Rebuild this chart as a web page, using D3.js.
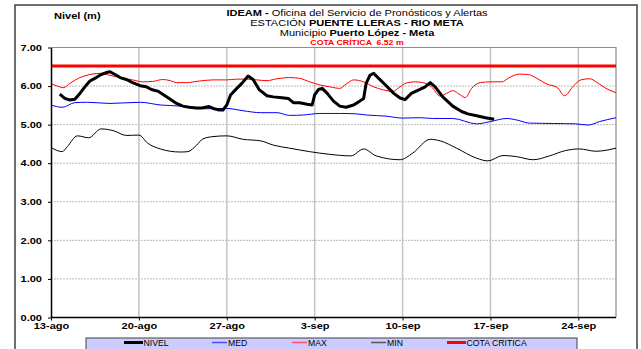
<!DOCTYPE html>
<html>
<head>
<meta charset="utf-8">
<script src="https://cdn.jsdelivr.net/npm/d3@7"></script>
<style>
  body { margin: 0; background: #fff; }
  svg text { font-family: Arial, "Liberation Sans", sans-serif; }
</style>
</head>
<body>
<div id="chart"></div>
<script>
// dias contados desde el 13-ago
var tickDias = [0, 7, 14, 21, 28, 35, 42];
var tickLabels = ["13-ago", "20-ago", "27-ago", "3-sep", "10-sep", "17-sep", "24-sep"];
var nivelTicks = [0, 1, 2, 3, 4, 5, 6, 7];
var cotaCritica = 6.52;

var nivel = [[0.7,5.79],[1.1,5.68],[1.5,5.64],[1.9,5.66],[2.3,5.81],[2.7,5.98],[3.1,6.13],[3.6,6.22],
  [4.0,6.30],[4.4,6.35],[4.7,6.37],[5.1,6.30],[5.5,6.22],[6.0,6.17],[6.5,6.09],[7.1,6.01],[7.6,5.98],
  [8.0,5.91],[8.5,5.87],[8.9,5.79],[9.5,5.66],[10.0,5.55],[10.5,5.48],[11.0,5.45],[11.6,5.43],[12.1,5.44],
  [12.6,5.47],[13.0,5.41],[13.4,5.38],[13.7,5.38],[14.0,5.51],[14.3,5.77],[14.8,5.94],[15.2,6.07],
  [15.7,6.26],[16.1,6.17],[16.6,5.90],[17.2,5.75],[17.7,5.72],[18.4,5.70],[18.9,5.68],[19.3,5.57],
  [19.8,5.57],[20.4,5.53],[20.8,5.51],[21.0,5.77],[21.3,5.91],[21.6,5.94],[22.0,5.81],[22.5,5.61],
  [23.0,5.48],[23.5,5.45],[24.1,5.51],[24.5,5.59],[24.9,5.68],[25.1,6.07],[25.4,6.28],[25.7,6.33],
  [26.1,6.20],[26.6,6.04],[27.3,5.81],[27.8,5.69],[28.2,5.65],[28.7,5.81],[29.3,5.90],[29.8,5.98],
  [30.2,6.09],[30.6,5.98],[31.2,5.72],[32.0,5.48],[32.7,5.34],[33.2,5.28],[33.9,5.23],[34.6,5.18],[35.3,5.14]];

var med = [[0,5.51],[0.9,5.45],[1.9,5.57],[2.9,5.58],[4.7,5.55],[7.1,5.58],[8.7,5.51],[10.3,5.48],
  [11.8,5.41],[14.0,5.42],[15.3,5.36],[16.7,5.31],[18.0,5.31],[19.0,5.24],[20.1,5.25],[21.4,5.29],
  [23.0,5.29],[24.3,5.28],[25.1,5.25],[26.7,5.22],[28.0,5.17],[29.4,5.18],[30.4,5.16],[32.0,5.16],
  [33.9,5.02],[35.0,5.08],[36.3,5.16],[37.1,5.12],[38.1,5.04],[40.0,5.03],[41.8,5.02],[42.8,4.99],
  [43.7,5.08],[45.0,5.18]];

var max = [[0,6.07],[0.5,6.00],[1.0,5.96],[1.5,6.07],[2.3,6.22],[3.1,6.30],[3.9,6.33],[4.7,6.28],
  [5.5,6.22],[6.5,6.16],[7.3,6.11],[8.1,6.12],[8.9,6.17],[9.5,6.14],[10.0,6.09],[10.8,6.09],[11.8,6.13],
  [12.9,6.16],[14.0,6.16],[14.8,6.18],[15.6,6.18],[16.4,6.16],[17.2,6.14],[18.0,6.19],[19.0,6.22],
  [19.8,6.20],[20.6,6.11],[21.4,6.03],[22.2,5.98],[23.0,5.94],[23.5,6.05],[24.1,6.16],[24.9,6.11],
  [25.7,5.98],[26.5,5.90],[27.2,5.86],[27.8,5.98],[28.3,6.08],[29.0,6.11],[29.6,6.09],[30.3,5.98],
  [31.0,5.74],[31.5,5.81],[32.0,5.88],[32.6,5.77],[33.0,5.70],[33.5,5.94],[34.2,6.09],[35.0,6.11],
  [35.9,6.11],[36.5,6.22],[37.3,6.31],[38.0,6.30],[38.7,6.20],[39.5,6.05],[40.3,5.97],[40.9,5.75],
  [41.6,6.00],[42.2,6.16],[42.9,6.19],[43.6,6.07],[44.2,5.94],[45.0,5.83]];

var min = [[0,4.41],[0.9,4.30],[1.3,4.43],[2.1,4.71],[3.0,4.66],[4.0,4.89],[5.0,4.84],[6.0,4.72],
  [7.0,4.73],[7.7,4.52],[8.7,4.37],[9.5,4.31],[10.3,4.29],[10.9,4.30],[11.6,4.47],[12.1,4.63],
  [12.9,4.69],[14.0,4.71],[15.3,4.62],[16.7,4.58],[17.7,4.47],[19.0,4.39],[20.6,4.30],[22.2,4.23],
  [23.9,4.19],[24.9,4.37],[25.9,4.19],[27.8,4.09],[28.8,4.26],[30.2,4.62],[31.0,4.58],[32.3,4.39],
  [33.9,4.13],[34.8,4.06],[36.0,4.20],[37.1,4.17],[38.4,4.09],[39.7,4.19],[41.0,4.33],[42.1,4.37],
  [43.4,4.31],[45.0,4.39]];

var width = 641;
var height = 349;
var padding = { top: 47.5, right: 25, bottom: 31.5, left: 51 };
var sx = 1.3; // el texto original viene estirado a lo ancho

var svg = d3.select('#chart')
    .append('svg')
    .attr('width', width)
    .attr('height', height);

// marco exterior
svg.append('rect')
    .attr('x', 15).attr('y', 5)
    .attr('width', 622).attr('height', 360)
    .attr('fill', '#fff')
    .attr('stroke', '#404040')
    .attr('stroke-width', 1.5);

var xScale = d3.scaleLinear()
    .domain([0, 45])
    .range([padding.left, width - padding.right]);
var yScale = d3.scaleLinear()
    .domain([0, 7])
    .range([height - padding.bottom, padding.top]);

var x0 = xScale(0), x1 = xScale(45), yTop = yScale(7), yBot = yScale(0);

// rejilla horizontal punteada
svg.append('g').selectAll('line')
    .data(nivelTicks.filter(function(d) { return d > 0 && d < 7; }))
    .enter().append('line')
    .attr('x1', x0).attr('x2', x1)
    .attr('y1', function(d) { return yScale(d); })
    .attr('y2', function(d) { return yScale(d); })
    .attr('stroke', '#a8a8a8')
    .attr('stroke-width', 0.8)
    .attr('stroke-dasharray', '2,1');

// rejilla vertical
svg.append('g').selectAll('line')
    .data(tickDias.filter(function(d) { return d > 0; }))
    .enter().append('line')
    .attr('x1', function(d) { return xScale(d); })
    .attr('x2', function(d) { return xScale(d); })
    .attr('y1', yTop).attr('y2', yBot)
    .attr('stroke', '#c4c4c4')
    .attr('stroke-width', 1.5);

// borde del area de trazado
svg.append('path')
    .attr('d', 'M' + x0 + ',' + yTop + 'H' + x1 + 'V' + yBot)
    .attr('fill', 'none')
    .attr('stroke', '#8c8c8c')
    .attr('stroke-width', 1.2);

var curva = d3.line()
    .x(function(d) { return xScale(d[0]); })
    .y(function(d) { return yScale(d[1]); })
    .curve(d3.curveMonotoneX);

svg.append('path').attr('d', curva(min))
    .attr('fill', 'none').attr('stroke', '#000').attr('stroke-width', 1);
svg.append('path').attr('d', curva(med))
    .attr('fill', 'none').attr('stroke', '#0000ff').attr('stroke-width', 1);
svg.append('path').attr('d', curva(max))
    .attr('fill', 'none').attr('stroke', '#ff0000').attr('stroke-width', 1);

// cota critica
svg.append('line')
    .attr('x1', x0).attr('x2', x1)
    .attr('y1', yScale(cotaCritica)).attr('y2', yScale(cotaCritica))
    .attr('stroke', '#ff0000')
    .attr('stroke-width', 3);

var lineaNivel = d3.line()
    .x(function(d) { return xScale(d[0]); })
    .y(function(d) { return yScale(d[1]); });
svg.append('path').attr('d', lineaNivel(nivel))
    .attr('fill', 'none').attr('stroke', '#000')
    .attr('stroke-width', 3)
    .attr('stroke-linejoin', 'round');

// ejes
var yAxis = d3.axisLeft(yScale)
    .tickValues(nivelTicks)
    .tickFormat(d3.format('.2f'))
    .tickSize(3)
    .tickSizeOuter(0);
var gy = svg.append('g')
    .attr('transform', 'translate(' + x0 + ',0)')
    .call(yAxis);
gy.select('.domain').attr('stroke-width', 1.5);
gy.selectAll('text')
    .attr('x', -9 / sx)
    .attr('transform', 'scale(' + sx + ',1)')
    .attr('font-size', 8.5)
    .attr('font-weight', 'bold')
    .attr('fill', '#000');

var xAxis = d3.axisBottom(xScale)
    .tickValues(tickDias)
    .tickFormat(function(d, i) { return tickLabels[i]; })
    .tickSize(3)
    .tickSizeOuter(0);
var gx = svg.append('g')
    .attr('transform', 'translate(0,' + yBot + ')')
    .call(xAxis);
gx.select('.domain').attr('d', 'M' + x0 + ',0H' + x1).attr('stroke-width', 1.5);
gx.selectAll('text')
    .attr('y', 5)
    .attr('transform', 'scale(' + sx + ',1)')
    .attr('font-size', 8.5)
    .attr('font-weight', 'bold')
    .attr('fill', '#000');

// titulos
svg.append('text')
    .attr('transform', 'translate(54,18.5) scale(' + sx + ',1)')
    .attr('font-size', 8.5).attr('font-weight', 'bold')
    .text('Nivel (m)');

var titulos = svg.append('g')
    .attr('text-anchor', 'middle')
    .attr('font-size', 8.5);
var t1 = titulos.append('text').attr('transform', 'translate(357,15.5) scale(' + sx + ',1)');
t1.append('tspan').attr('font-weight', 'bold').text('IDEAM - ');
t1.append('tspan').text('Oficina del Servicio de Pronósticos y Alertas');
var t2 = titulos.append('text').attr('transform', 'translate(357,26) scale(' + sx + ',1)');
t2.append('tspan').text('ESTACIÓN ');
t2.append('tspan').attr('font-weight', 'bold').text('PUENTE LLERAS - RIO META');
var t3 = titulos.append('text').attr('transform', 'translate(357,36.3) scale(' + sx + ',1)');
t3.append('tspan').text('Municipio ');
t3.append('tspan').attr('font-weight', 'bold').text('Puerto López - Meta');
titulos.append('text')
    .attr('transform', 'translate(357,45) scale(1.25,1)')
    .attr('font-size', 7).attr('font-weight', 'bold')
    .attr('fill', '#ff0000')
    .attr('xml:space', 'preserve')
    .text('COTA CRÍTICA  ' + cotaCritica.toFixed(2) + ' m');

// leyenda
var leyenda = [
    { nombre: 'NIVEL', color: '#000', ancho: 3, x: 124 },
    { nombre: 'MED', color: '#4d4dff', ancho: 1.5, x: 212 },
    { nombre: 'MAX', color: '#ff4d6a', ancho: 1.5, x: 292 },
    { nombre: 'MIN', color: '#555', ancho: 1.5, x: 371 },
    { nombre: 'COTA CRITICA', color: '#ff0000', ancho: 3, x: 447 }
];
svg.append('rect')
    .attr('x', 86).attr('y', 338)
    .attr('width', 491).attr('height', 16)
    .attr('fill', '#ccccff')
    .attr('stroke', '#404040')
    .attr('stroke-width', 1);
var items = svg.append('g').selectAll('g')
    .data(leyenda)
    .enter().append('g')
    .attr('transform', function(d) { return 'translate(' + d.x + ',342.5)'; });
items.append('line')
    .attr('x1', 0).attr('x2', function(d) { return d.nombre === 'NIVEL' || d.nombre === 'COTA CRITICA' ? 19 : 15; })
    .attr('stroke', function(d) { return d.color; })
    .attr('stroke-width', function(d) { return d.ancho; });
items.append('text')
    .attr('x', function(d) { return d.nombre === 'NIVEL' || d.nombre === 'COTA CRITICA' ? 19.5 : 16; })
    .attr('y', 3.2)
    .attr('font-size', 8.7)
    .text(function(d) { return d.nombre; });
</script>
</body>
</html>
